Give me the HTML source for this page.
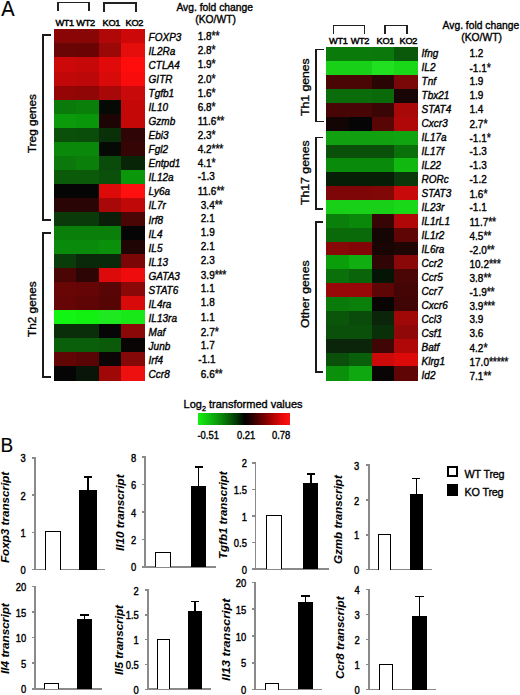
<!DOCTYPE html>
<html><head><meta charset="utf-8"><style>
html,body{margin:0;padding:0;background:#fff;}
body{width:520px;height:695px;position:relative;overflow:hidden;font-family:"Liberation Sans", sans-serif;color:#000;}
.t{position:absolute;white-space:nowrap;-webkit-text-stroke:0.35px #000;}
.v{transform:rotate(-90deg);transform-origin:0 0;}
.r{position:absolute;}
.s{font-size:10.6px;letter-spacing:-0.3px;-webkit-text-stroke:0.25px #000;}
.sub{font-size:0.65em;position:relative;top:0.42em;}
</style></head><body>
<div class="t" style="left:1.30px;top:-1.23px;font-size:20px;line-height:20px;transform:scale(1.0,1.06);transform-origin:0 16.93px;-webkit-text-stroke:0.15px #000;">A</div>
<div class="r" style="left:53.70px;top:29.40px;width:23.18px;height:14.64px;background:#8a0606;"></div>
<div class="r" style="left:76.28px;top:29.40px;width:23.18px;height:14.64px;background:#880606;"></div>
<div class="r" style="left:98.85px;top:29.40px;width:23.18px;height:14.64px;background:#b00808;"></div>
<div class="r" style="left:121.42px;top:29.40px;width:23.18px;height:14.64px;background:#cc0808;"></div>
<div class="t" style="left:148.60px;top:32.73px;font-size:10px;line-height:10px;transform:scale(1.0,1.12);transform-origin:0 8.46px;font-style:italic;">FOXP3</div>
<div class="t" style="left:197.70px;top:31.34px;font-size:10px;line-height:10px;transform:scale(1.0,1.12);transform-origin:0 8.46px;">1.8<span class="s">*</span><span class="s">*</span></div>
<div class="r" style="left:53.70px;top:43.44px;width:23.18px;height:14.64px;background:#6a0505;"></div>
<div class="r" style="left:76.28px;top:43.44px;width:23.18px;height:14.64px;background:#6a0404;"></div>
<div class="r" style="left:98.85px;top:43.44px;width:23.18px;height:14.64px;background:#9a0808;"></div>
<div class="r" style="left:121.42px;top:43.44px;width:23.18px;height:14.64px;background:#e60d0d;"></div>
<div class="t" style="left:148.60px;top:46.80px;font-size:10px;line-height:10px;transform:scale(1.0,1.12);transform-origin:0 8.46px;font-style:italic;">IL2Ra</div>
<div class="t" style="left:197.70px;top:45.40px;font-size:10px;line-height:10px;transform:scale(1.0,1.12);transform-origin:0 8.46px;">2.8<span class="s">*</span></div>
<div class="r" style="left:53.70px;top:57.48px;width:23.18px;height:14.64px;background:#cc0808;"></div>
<div class="r" style="left:76.28px;top:57.48px;width:23.18px;height:14.64px;background:#c60808;"></div>
<div class="r" style="left:98.85px;top:57.48px;width:23.18px;height:14.64px;background:#e00a0a;"></div>
<div class="r" style="left:121.42px;top:57.48px;width:23.18px;height:14.64px;background:#ff0c0c;"></div>
<div class="t" style="left:148.60px;top:60.86px;font-size:10px;line-height:10px;transform:scale(1.0,1.12);transform-origin:0 8.46px;font-style:italic;">CTLA4</div>
<div class="t" style="left:197.70px;top:59.45px;font-size:10px;line-height:10px;transform:scale(1.0,1.12);transform-origin:0 8.46px;">1.9<span class="s">*</span></div>
<div class="r" style="left:53.70px;top:71.52px;width:23.18px;height:14.64px;background:#c00808;"></div>
<div class="r" style="left:76.28px;top:71.52px;width:23.18px;height:14.64px;background:#bc0808;"></div>
<div class="r" style="left:98.85px;top:71.52px;width:23.18px;height:14.64px;background:#d80a0a;"></div>
<div class="r" style="left:121.42px;top:71.52px;width:23.18px;height:14.64px;background:#f80c0c;"></div>
<div class="t" style="left:148.60px;top:74.91px;font-size:10px;line-height:10px;transform:scale(1.0,1.12);transform-origin:0 8.46px;font-style:italic;">GITR</div>
<div class="t" style="left:197.70px;top:73.51px;font-size:10px;line-height:10px;transform:scale(1.0,1.12);transform-origin:0 8.46px;">2.0<span class="s">*</span></div>
<div class="r" style="left:53.70px;top:85.56px;width:23.18px;height:14.64px;background:#940606;"></div>
<div class="r" style="left:76.28px;top:85.56px;width:23.18px;height:14.64px;background:#900606;"></div>
<div class="r" style="left:98.85px;top:85.56px;width:23.18px;height:14.64px;background:#a80808;"></div>
<div class="r" style="left:121.42px;top:85.56px;width:23.18px;height:14.64px;background:#c80a0a;"></div>
<div class="t" style="left:148.60px;top:88.97px;font-size:10px;line-height:10px;transform:scale(1.0,1.12);transform-origin:0 8.46px;font-style:italic;">Tgfb1</div>
<div class="t" style="left:197.70px;top:87.57px;font-size:10px;line-height:10px;transform:scale(1.0,1.12);transform-origin:0 8.46px;">1.6<span class="s">*</span></div>
<div class="r" style="left:53.70px;top:99.60px;width:23.18px;height:14.64px;background:#0a7a0a;"></div>
<div class="r" style="left:76.28px;top:99.60px;width:23.18px;height:14.64px;background:#0a800a;"></div>
<div class="r" style="left:98.85px;top:99.60px;width:23.18px;height:14.64px;background:#050a05;"></div>
<div class="r" style="left:121.42px;top:99.60px;width:23.18px;height:14.64px;background:#c40808;"></div>
<div class="t" style="left:148.60px;top:103.03px;font-size:10px;line-height:10px;transform:scale(1.0,1.12);transform-origin:0 8.46px;font-style:italic;">IL10</div>
<div class="t" style="left:197.70px;top:101.63px;font-size:10px;line-height:10px;transform:scale(1.0,1.12);transform-origin:0 8.46px;">6.8<span class="s">*</span></div>
<div class="r" style="left:53.70px;top:113.64px;width:23.18px;height:14.64px;background:#0a9a0a;"></div>
<div class="r" style="left:76.28px;top:113.64px;width:23.18px;height:14.64px;background:#0a960a;"></div>
<div class="r" style="left:98.85px;top:113.64px;width:23.18px;height:14.64px;background:#1e0505;"></div>
<div class="r" style="left:121.42px;top:113.64px;width:23.18px;height:14.64px;background:#c40808;"></div>
<div class="t" style="left:148.60px;top:117.09px;font-size:10px;line-height:10px;transform:scale(1.0,1.12);transform-origin:0 8.46px;font-style:italic;">Gzmb</div>
<div class="t" style="left:197.70px;top:115.69px;font-size:10px;line-height:10px;transform:scale(1.0,1.12);transform-origin:0 8.46px;">11.6<span class="s">*</span><span class="s">*</span></div>
<div class="r" style="left:53.70px;top:127.68px;width:23.18px;height:14.64px;background:#0a500a;"></div>
<div class="r" style="left:76.28px;top:127.68px;width:23.18px;height:14.64px;background:#0a4d0a;"></div>
<div class="r" style="left:98.85px;top:127.68px;width:23.18px;height:14.64px;background:#0a300a;"></div>
<div class="r" style="left:121.42px;top:127.68px;width:23.18px;height:14.64px;background:#300505;"></div>
<div class="t" style="left:148.60px;top:131.16px;font-size:10px;line-height:10px;transform:scale(1.0,1.12);transform-origin:0 8.46px;font-style:italic;">Ebi3</div>
<div class="t" style="left:197.70px;top:129.75px;font-size:10px;line-height:10px;transform:scale(1.0,1.12);transform-origin:0 8.46px;">2.3<span class="s">*</span></div>
<div class="r" style="left:53.70px;top:141.72px;width:23.18px;height:14.64px;background:#0a880a;"></div>
<div class="r" style="left:76.28px;top:141.72px;width:23.18px;height:14.64px;background:#0a880a;"></div>
<div class="r" style="left:98.85px;top:141.72px;width:23.18px;height:14.64px;background:#050a05;"></div>
<div class="r" style="left:121.42px;top:141.72px;width:23.18px;height:14.64px;background:#350505;"></div>
<div class="t" style="left:148.60px;top:145.22px;font-size:10px;line-height:10px;transform:scale(1.0,1.12);transform-origin:0 8.46px;font-style:italic;">Fgl2</div>
<div class="t" style="left:197.70px;top:143.81px;font-size:10px;line-height:10px;transform:scale(1.0,1.12);transform-origin:0 8.46px;">4.2<span class="s">*</span><span class="s">*</span><span class="s">*</span></div>
<div class="r" style="left:53.70px;top:155.76px;width:23.18px;height:14.64px;background:#0a780a;"></div>
<div class="r" style="left:76.28px;top:155.76px;width:23.18px;height:14.64px;background:#0a800a;"></div>
<div class="r" style="left:98.85px;top:155.76px;width:23.18px;height:14.64px;background:#0a4a0a;"></div>
<div class="r" style="left:121.42px;top:155.76px;width:23.18px;height:14.64px;background:#082508;"></div>
<div class="t" style="left:148.60px;top:159.28px;font-size:10px;line-height:10px;transform:scale(1.0,1.12);transform-origin:0 8.46px;font-style:italic;">Entpd1</div>
<div class="t" style="left:197.70px;top:157.88px;font-size:10px;line-height:10px;transform:scale(1.0,1.12);transform-origin:0 8.46px;">4.1<span class="s">*</span></div>
<div class="r" style="left:53.70px;top:169.80px;width:23.18px;height:14.64px;background:#0a5a0a;"></div>
<div class="r" style="left:76.28px;top:169.80px;width:23.18px;height:14.64px;background:#0a5a0a;"></div>
<div class="r" style="left:98.85px;top:169.80px;width:23.18px;height:14.64px;background:#0a500a;"></div>
<div class="r" style="left:121.42px;top:169.80px;width:23.18px;height:14.64px;background:#0a980a;"></div>
<div class="t" style="left:148.60px;top:173.34px;font-size:10px;line-height:10px;transform:scale(1.0,1.12);transform-origin:0 8.46px;font-style:italic;">IL12a</div>
<div class="t" style="left:197.70px;top:171.94px;font-size:10px;line-height:10px;transform:scale(1.0,1.12);transform-origin:0 8.46px;">-1.3</div>
<div class="r" style="left:53.70px;top:183.84px;width:23.18px;height:14.64px;background:#050505;"></div>
<div class="r" style="left:76.28px;top:183.84px;width:23.18px;height:14.64px;background:#050505;"></div>
<div class="r" style="left:98.85px;top:183.84px;width:23.18px;height:14.64px;background:#dd0a0a;"></div>
<div class="r" style="left:121.42px;top:183.84px;width:23.18px;height:14.64px;background:#ff1010;"></div>
<div class="t" style="left:148.60px;top:187.40px;font-size:10px;line-height:10px;transform:scale(1.0,1.12);transform-origin:0 8.46px;font-style:italic;">Ly6a</div>
<div class="t" style="left:197.70px;top:186.00px;font-size:10px;line-height:10px;transform:scale(1.0,1.12);transform-origin:0 8.46px;">11.6<span class="s">*</span><span class="s">*</span></div>
<div class="r" style="left:53.70px;top:197.88px;width:23.18px;height:14.64px;background:#2a0505;"></div>
<div class="r" style="left:76.28px;top:197.88px;width:23.18px;height:14.64px;background:#2a0505;"></div>
<div class="r" style="left:98.85px;top:197.88px;width:23.18px;height:14.64px;background:#a80808;"></div>
<div class="r" style="left:121.42px;top:197.88px;width:23.18px;height:14.64px;background:#c00808;"></div>
<div class="t" style="left:148.60px;top:201.46px;font-size:10px;line-height:10px;transform:scale(1.0,1.12);transform-origin:0 8.46px;font-style:italic;">IL7r</div>
<div class="t" style="left:200.80px;top:200.06px;font-size:10px;line-height:10px;transform:scale(1.0,1.12);transform-origin:0 8.46px;">3.4<span class="s">*</span><span class="s">*</span></div>
<div class="r" style="left:53.70px;top:211.92px;width:23.18px;height:14.64px;background:#0a3a0a;"></div>
<div class="r" style="left:76.28px;top:211.92px;width:23.18px;height:14.64px;background:#0a3a0a;"></div>
<div class="r" style="left:98.85px;top:211.92px;width:23.18px;height:14.64px;background:#0a1e0a;"></div>
<div class="r" style="left:121.42px;top:211.92px;width:23.18px;height:14.64px;background:#4a0505;"></div>
<div class="t" style="left:148.60px;top:215.52px;font-size:10px;line-height:10px;transform:scale(1.0,1.12);transform-origin:0 8.46px;font-style:italic;">Irf8</div>
<div class="t" style="left:200.80px;top:214.12px;font-size:10px;line-height:10px;transform:scale(1.0,1.12);transform-origin:0 8.46px;">2.1</div>
<div class="r" style="left:53.70px;top:225.96px;width:23.18px;height:14.64px;background:#0a800a;"></div>
<div class="r" style="left:76.28px;top:225.96px;width:23.18px;height:14.64px;background:#0a800a;"></div>
<div class="r" style="left:98.85px;top:225.96px;width:23.18px;height:14.64px;background:#0a800a;"></div>
<div class="r" style="left:121.42px;top:225.96px;width:23.18px;height:14.64px;background:#050505;"></div>
<div class="t" style="left:148.60px;top:229.58px;font-size:10px;line-height:10px;transform:scale(1.0,1.12);transform-origin:0 8.46px;font-style:italic;">IL4</div>
<div class="t" style="left:200.80px;top:228.18px;font-size:10px;line-height:10px;transform:scale(1.0,1.12);transform-origin:0 8.46px;">1.9</div>
<div class="r" style="left:53.70px;top:240.00px;width:23.18px;height:14.64px;background:#0a8a0a;"></div>
<div class="r" style="left:76.28px;top:240.00px;width:23.18px;height:14.64px;background:#0a8a0a;"></div>
<div class="r" style="left:98.85px;top:240.00px;width:23.18px;height:14.64px;background:#0a900a;"></div>
<div class="r" style="left:121.42px;top:240.00px;width:23.18px;height:14.64px;background:#200505;"></div>
<div class="t" style="left:148.60px;top:243.64px;font-size:10px;line-height:10px;transform:scale(1.0,1.12);transform-origin:0 8.46px;font-style:italic;">IL5</div>
<div class="t" style="left:200.80px;top:242.24px;font-size:10px;line-height:10px;transform:scale(1.0,1.12);transform-origin:0 8.46px;">2.1</div>
<div class="r" style="left:53.70px;top:254.04px;width:23.18px;height:14.64px;background:#0a3c0a;"></div>
<div class="r" style="left:76.28px;top:254.04px;width:23.18px;height:14.64px;background:#0a280a;"></div>
<div class="r" style="left:98.85px;top:254.04px;width:23.18px;height:14.64px;background:#0a280a;"></div>
<div class="r" style="left:121.42px;top:254.04px;width:23.18px;height:14.64px;background:#7a0606;"></div>
<div class="t" style="left:148.60px;top:257.70px;font-size:10px;line-height:10px;transform:scale(1.0,1.12);transform-origin:0 8.46px;font-style:italic;">IL13</div>
<div class="t" style="left:200.80px;top:256.30px;font-size:10px;line-height:10px;transform:scale(1.0,1.12);transform-origin:0 8.46px;">2.3</div>
<div class="r" style="left:53.70px;top:268.08px;width:23.18px;height:14.64px;background:#4a0505;"></div>
<div class="r" style="left:76.28px;top:268.08px;width:23.18px;height:14.64px;background:#2e0505;"></div>
<div class="r" style="left:98.85px;top:268.08px;width:23.18px;height:14.64px;background:#dc0a0a;"></div>
<div class="r" style="left:121.42px;top:268.08px;width:23.18px;height:14.64px;background:#ee0c0c;"></div>
<div class="t" style="left:148.60px;top:271.76px;font-size:10px;line-height:10px;transform:scale(1.0,1.12);transform-origin:0 8.46px;font-style:italic;">GATA3</div>
<div class="t" style="left:200.80px;top:270.36px;font-size:10px;line-height:10px;transform:scale(1.0,1.12);transform-origin:0 8.46px;">3.9<span class="s">*</span><span class="s">*</span><span class="s">*</span></div>
<div class="r" style="left:53.70px;top:282.12px;width:23.18px;height:14.64px;background:#680505;"></div>
<div class="r" style="left:76.28px;top:282.12px;width:23.18px;height:14.64px;background:#660505;"></div>
<div class="r" style="left:98.85px;top:282.12px;width:23.18px;height:14.64px;background:#580505;"></div>
<div class="r" style="left:121.42px;top:282.12px;width:23.18px;height:14.64px;background:#8a0808;"></div>
<div class="t" style="left:148.60px;top:285.82px;font-size:10px;line-height:10px;transform:scale(1.0,1.12);transform-origin:0 8.46px;font-style:italic;">STAT6</div>
<div class="t" style="left:200.80px;top:284.42px;font-size:10px;line-height:10px;transform:scale(1.0,1.12);transform-origin:0 8.46px;">1.1</div>
<div class="r" style="left:53.70px;top:296.16px;width:23.18px;height:14.64px;background:#660505;"></div>
<div class="r" style="left:76.28px;top:296.16px;width:23.18px;height:14.64px;background:#600505;"></div>
<div class="r" style="left:98.85px;top:296.16px;width:23.18px;height:14.64px;background:#560505;"></div>
<div class="r" style="left:121.42px;top:296.16px;width:23.18px;height:14.64px;background:#d80a0a;"></div>
<div class="t" style="left:148.60px;top:299.88px;font-size:10px;line-height:10px;transform:scale(1.0,1.12);transform-origin:0 8.46px;font-style:italic;">IL4ra</div>
<div class="t" style="left:200.80px;top:298.48px;font-size:10px;line-height:10px;transform:scale(1.0,1.12);transform-origin:0 8.46px;">1.8</div>
<div class="r" style="left:53.70px;top:310.20px;width:23.18px;height:14.64px;background:#12f512;"></div>
<div class="r" style="left:76.28px;top:310.20px;width:23.18px;height:14.64px;background:#12f012;"></div>
<div class="r" style="left:98.85px;top:310.20px;width:23.18px;height:14.64px;background:#20e820;"></div>
<div class="r" style="left:121.42px;top:310.20px;width:23.18px;height:14.64px;background:#18e818;"></div>
<div class="t" style="left:148.60px;top:313.94px;font-size:10px;line-height:10px;transform:scale(1.0,1.12);transform-origin:0 8.46px;font-style:italic;">IL13ra</div>
<div class="t" style="left:200.80px;top:312.54px;font-size:10px;line-height:10px;transform:scale(1.0,1.12);transform-origin:0 8.46px;">1.1</div>
<div class="r" style="left:53.70px;top:324.24px;width:23.18px;height:14.64px;background:#0a2e0a;"></div>
<div class="r" style="left:76.28px;top:324.24px;width:23.18px;height:14.64px;background:#0a2e0a;"></div>
<div class="r" style="left:98.85px;top:324.24px;width:23.18px;height:14.64px;background:#060606;"></div>
<div class="r" style="left:121.42px;top:324.24px;width:23.18px;height:14.64px;background:#8a0808;"></div>
<div class="t" style="left:148.60px;top:328.00px;font-size:10px;line-height:10px;transform:scale(1.0,1.12);transform-origin:0 8.46px;font-style:italic;">Maf</div>
<div class="t" style="left:200.80px;top:326.60px;font-size:10px;line-height:10px;transform:scale(1.0,1.12);transform-origin:0 8.46px;">2.7<span class="s">*</span></div>
<div class="r" style="left:53.70px;top:338.28px;width:23.18px;height:14.64px;background:#0a600a;"></div>
<div class="r" style="left:76.28px;top:338.28px;width:23.18px;height:14.64px;background:#0a600a;"></div>
<div class="r" style="left:98.85px;top:338.28px;width:23.18px;height:14.64px;background:#0a5a0a;"></div>
<div class="r" style="left:121.42px;top:338.28px;width:23.18px;height:14.64px;background:#0a0505;"></div>
<div class="t" style="left:148.60px;top:342.06px;font-size:10px;line-height:10px;transform:scale(1.0,1.12);transform-origin:0 8.46px;font-style:italic;">Junb</div>
<div class="t" style="left:200.80px;top:340.66px;font-size:10px;line-height:10px;transform:scale(1.0,1.12);transform-origin:0 8.46px;">1.7</div>
<div class="r" style="left:53.70px;top:352.32px;width:23.18px;height:14.64px;background:#620505;"></div>
<div class="r" style="left:76.28px;top:352.32px;width:23.18px;height:14.64px;background:#5a0505;"></div>
<div class="r" style="left:98.85px;top:352.32px;width:23.18px;height:14.64px;background:#0c0505;"></div>
<div class="r" style="left:121.42px;top:352.32px;width:23.18px;height:14.64px;background:#840808;"></div>
<div class="t" style="left:148.60px;top:356.12px;font-size:10px;line-height:10px;transform:scale(1.0,1.12);transform-origin:0 8.46px;font-style:italic;">Irf4</div>
<div class="t" style="left:198.30px;top:354.72px;font-size:10px;line-height:10px;transform:scale(1.0,1.12);transform-origin:0 8.46px;">-1.1</div>
<div class="r" style="left:53.70px;top:366.36px;width:23.18px;height:14.64px;background:#050505;"></div>
<div class="r" style="left:76.28px;top:366.36px;width:23.18px;height:14.64px;background:#0a150a;"></div>
<div class="r" style="left:98.85px;top:366.36px;width:23.18px;height:14.64px;background:#a00808;"></div>
<div class="r" style="left:121.42px;top:366.36px;width:23.18px;height:14.64px;background:#ee0f0f;"></div>
<div class="t" style="left:148.60px;top:370.18px;font-size:10px;line-height:10px;transform:scale(1.0,1.12);transform-origin:0 8.46px;font-style:italic;">Ccr8</div>
<div class="t" style="left:200.80px;top:368.78px;font-size:10px;line-height:10px;transform:scale(1.0,1.12);transform-origin:0 8.46px;">6.6<span class="s">*</span><span class="s">*</span></div>
<div class="r" style="left:326.00px;top:47.40px;width:23.40px;height:14.47px;background:#0a7a0a;"></div>
<div class="r" style="left:348.80px;top:47.40px;width:23.40px;height:14.47px;background:#0a7a0a;"></div>
<div class="r" style="left:371.60px;top:47.40px;width:23.40px;height:14.47px;background:#0a780a;"></div>
<div class="r" style="left:394.40px;top:47.40px;width:23.40px;height:14.47px;background:#0a580a;"></div>
<div class="t" style="left:421.60px;top:48.73px;font-size:10px;line-height:10px;transform:scale(1.0,1.12);transform-origin:0 8.46px;font-style:italic;">Ifng</div>
<div class="t" style="left:469.50px;top:48.73px;font-size:10px;line-height:10px;transform:scale(1.0,1.12);transform-origin:0 8.46px;">1.2</div>
<div class="r" style="left:326.00px;top:61.27px;width:23.40px;height:14.47px;background:#18d018;"></div>
<div class="r" style="left:348.80px;top:61.27px;width:23.40px;height:14.47px;background:#18d018;"></div>
<div class="r" style="left:371.60px;top:61.27px;width:23.40px;height:14.47px;background:#20e020;"></div>
<div class="r" style="left:394.40px;top:61.27px;width:23.40px;height:14.47px;background:#18d818;"></div>
<div class="t" style="left:421.60px;top:62.73px;font-size:10px;line-height:10px;transform:scale(1.0,1.12);transform-origin:0 8.46px;font-style:italic;">IL2</div>
<div class="t" style="left:469.50px;top:62.73px;font-size:10px;line-height:10px;transform:scale(1.0,1.12);transform-origin:0 8.46px;">-1.1<span class="s">*</span></div>
<div class="r" style="left:326.00px;top:75.14px;width:23.40px;height:14.47px;background:#4a0505;"></div>
<div class="r" style="left:348.80px;top:75.14px;width:23.40px;height:14.47px;background:#4a0505;"></div>
<div class="r" style="left:371.60px;top:75.14px;width:23.40px;height:14.47px;background:#2a0505;"></div>
<div class="r" style="left:394.40px;top:75.14px;width:23.40px;height:14.47px;background:#7a0808;"></div>
<div class="t" style="left:421.60px;top:76.73px;font-size:10px;line-height:10px;transform:scale(1.0,1.12);transform-origin:0 8.46px;font-style:italic;">Tnf</div>
<div class="t" style="left:469.50px;top:76.73px;font-size:10px;line-height:10px;transform:scale(1.0,1.12);transform-origin:0 8.46px;">1.9</div>
<div class="r" style="left:326.00px;top:89.01px;width:23.40px;height:14.47px;background:#0a6c0a;"></div>
<div class="r" style="left:348.80px;top:89.01px;width:23.40px;height:14.47px;background:#0a6c0a;"></div>
<div class="r" style="left:371.60px;top:89.01px;width:23.40px;height:14.47px;background:#0a6a0a;"></div>
<div class="r" style="left:394.40px;top:89.01px;width:23.40px;height:14.47px;background:#180505;"></div>
<div class="t" style="left:421.60px;top:90.73px;font-size:10px;line-height:10px;transform:scale(1.0,1.12);transform-origin:0 8.46px;font-style:italic;">Tbx21</div>
<div class="t" style="left:469.50px;top:90.73px;font-size:10px;line-height:10px;transform:scale(1.0,1.12);transform-origin:0 8.46px;">1.9</div>
<div class="r" style="left:326.00px;top:102.88px;width:23.40px;height:14.47px;background:#480505;"></div>
<div class="r" style="left:348.80px;top:102.88px;width:23.40px;height:14.47px;background:#480505;"></div>
<div class="r" style="left:371.60px;top:102.88px;width:23.40px;height:14.47px;background:#3a0505;"></div>
<div class="r" style="left:394.40px;top:102.88px;width:23.40px;height:14.47px;background:#a80808;"></div>
<div class="t" style="left:421.60px;top:104.73px;font-size:10px;line-height:10px;transform:scale(1.0,1.12);transform-origin:0 8.46px;font-style:italic;">STAT4</div>
<div class="t" style="left:469.50px;top:104.73px;font-size:10px;line-height:10px;transform:scale(1.0,1.12);transform-origin:0 8.46px;">1.4</div>
<div class="r" style="left:326.00px;top:116.75px;width:23.40px;height:14.47px;background:#140505;"></div>
<div class="r" style="left:348.80px;top:116.75px;width:23.40px;height:14.47px;background:#060505;"></div>
<div class="r" style="left:371.60px;top:116.75px;width:23.40px;height:14.47px;background:#580505;"></div>
<div class="r" style="left:394.40px;top:116.75px;width:23.40px;height:14.47px;background:#b00808;"></div>
<div class="t" style="left:421.60px;top:118.73px;font-size:10px;line-height:10px;transform:scale(1.0,1.12);transform-origin:0 8.46px;font-style:italic;">Cxcr3</div>
<div class="t" style="left:469.50px;top:118.73px;font-size:10px;line-height:10px;transform:scale(1.0,1.12);transform-origin:0 8.46px;">2.7<span class="s">*</span></div>
<div class="r" style="left:326.00px;top:130.62px;width:23.40px;height:14.47px;background:#10a010;"></div>
<div class="r" style="left:348.80px;top:130.62px;width:23.40px;height:14.47px;background:#10a010;"></div>
<div class="r" style="left:371.60px;top:130.62px;width:23.40px;height:14.47px;background:#10a010;"></div>
<div class="r" style="left:394.40px;top:130.62px;width:23.40px;height:14.47px;background:#10a510;"></div>
<div class="t" style="left:421.60px;top:132.73px;font-size:10px;line-height:10px;transform:scale(1.0,1.12);transform-origin:0 8.46px;font-style:italic;">IL17a</div>
<div class="t" style="left:469.50px;top:132.73px;font-size:10px;line-height:10px;transform:scale(1.0,1.12);transform-origin:0 8.46px;">-1.1<span class="s">*</span></div>
<div class="r" style="left:326.00px;top:144.50px;width:23.40px;height:14.47px;background:#0a500a;"></div>
<div class="r" style="left:348.80px;top:144.50px;width:23.40px;height:14.47px;background:#0a500a;"></div>
<div class="r" style="left:371.60px;top:144.50px;width:23.40px;height:14.47px;background:#0a500a;"></div>
<div class="r" style="left:394.40px;top:144.50px;width:23.40px;height:14.47px;background:#0a700a;"></div>
<div class="t" style="left:421.60px;top:146.73px;font-size:10px;line-height:10px;transform:scale(1.0,1.12);transform-origin:0 8.46px;font-style:italic;">IL17f</div>
<div class="t" style="left:469.50px;top:146.73px;font-size:10px;line-height:10px;transform:scale(1.0,1.12);transform-origin:0 8.46px;">-1.3</div>
<div class="r" style="left:326.00px;top:158.37px;width:23.40px;height:14.47px;background:#0a8a0a;"></div>
<div class="r" style="left:348.80px;top:158.37px;width:23.40px;height:14.47px;background:#0a8a0a;"></div>
<div class="r" style="left:371.60px;top:158.37px;width:23.40px;height:14.47px;background:#0a8a0a;"></div>
<div class="r" style="left:394.40px;top:158.37px;width:23.40px;height:14.47px;background:#10b810;"></div>
<div class="t" style="left:421.60px;top:160.73px;font-size:10px;line-height:10px;transform:scale(1.0,1.12);transform-origin:0 8.46px;font-style:italic;">IL22</div>
<div class="t" style="left:469.50px;top:160.73px;font-size:10px;line-height:10px;transform:scale(1.0,1.12);transform-origin:0 8.46px;">-1.3</div>
<div class="r" style="left:326.00px;top:172.24px;width:23.40px;height:14.47px;background:#061e06;"></div>
<div class="r" style="left:348.80px;top:172.24px;width:23.40px;height:14.47px;background:#061e06;"></div>
<div class="r" style="left:371.60px;top:172.24px;width:23.40px;height:14.47px;background:#061e06;"></div>
<div class="r" style="left:394.40px;top:172.24px;width:23.40px;height:14.47px;background:#0a380a;"></div>
<div class="t" style="left:421.60px;top:174.73px;font-size:10px;line-height:10px;transform:scale(1.0,1.12);transform-origin:0 8.46px;font-style:italic;">RORc</div>
<div class="t" style="left:469.50px;top:174.73px;font-size:10px;line-height:10px;transform:scale(1.0,1.12);transform-origin:0 8.46px;">-1.2</div>
<div class="r" style="left:326.00px;top:186.11px;width:23.40px;height:14.47px;background:#7e0606;"></div>
<div class="r" style="left:348.80px;top:186.11px;width:23.40px;height:14.47px;background:#7e0606;"></div>
<div class="r" style="left:371.60px;top:186.11px;width:23.40px;height:14.47px;background:#820707;"></div>
<div class="r" style="left:394.40px;top:186.11px;width:23.40px;height:14.47px;background:#c80a0a;"></div>
<div class="t" style="left:421.60px;top:188.73px;font-size:10px;line-height:10px;transform:scale(1.0,1.12);transform-origin:0 8.46px;font-style:italic;">STAT3</div>
<div class="t" style="left:469.50px;top:188.73px;font-size:10px;line-height:10px;transform:scale(1.0,1.12);transform-origin:0 8.46px;">1.6<span class="s">*</span></div>
<div class="r" style="left:326.00px;top:199.98px;width:23.40px;height:14.47px;background:#18d018;"></div>
<div class="r" style="left:348.80px;top:199.98px;width:23.40px;height:14.47px;background:#18d018;"></div>
<div class="r" style="left:371.60px;top:199.98px;width:23.40px;height:14.47px;background:#18d018;"></div>
<div class="r" style="left:394.40px;top:199.98px;width:23.40px;height:14.47px;background:#18d818;"></div>
<div class="t" style="left:421.60px;top:202.73px;font-size:10px;line-height:10px;transform:scale(1.0,1.12);transform-origin:0 8.46px;font-style:italic;">IL23r</div>
<div class="t" style="left:469.50px;top:202.73px;font-size:10px;line-height:10px;transform:scale(1.0,1.12);transform-origin:0 8.46px;">-1.1</div>
<div class="r" style="left:326.00px;top:213.85px;width:23.40px;height:14.47px;background:#0a800a;"></div>
<div class="r" style="left:348.80px;top:213.85px;width:23.40px;height:14.47px;background:#0a880a;"></div>
<div class="r" style="left:371.60px;top:213.85px;width:23.40px;height:14.47px;background:#380505;"></div>
<div class="r" style="left:394.40px;top:213.85px;width:23.40px;height:14.47px;background:#b00808;"></div>
<div class="t" style="left:421.60px;top:216.73px;font-size:10px;line-height:10px;transform:scale(1.0,1.12);transform-origin:0 8.46px;font-style:italic;">IL1rL1</div>
<div class="t" style="left:469.50px;top:216.73px;font-size:10px;line-height:10px;transform:scale(1.0,1.12);transform-origin:0 8.46px;">11.7<span class="s">*</span><span class="s">*</span></div>
<div class="r" style="left:326.00px;top:227.72px;width:23.40px;height:14.47px;background:#0a6a0a;"></div>
<div class="r" style="left:348.80px;top:227.72px;width:23.40px;height:14.47px;background:#0a6a0a;"></div>
<div class="r" style="left:371.60px;top:227.72px;width:23.40px;height:14.47px;background:#150505;"></div>
<div class="r" style="left:394.40px;top:227.72px;width:23.40px;height:14.47px;background:#600505;"></div>
<div class="t" style="left:421.60px;top:230.73px;font-size:10px;line-height:10px;transform:scale(1.0,1.12);transform-origin:0 8.46px;font-style:italic;">IL1r2</div>
<div class="t" style="left:469.50px;top:230.73px;font-size:10px;line-height:10px;transform:scale(1.0,1.12);transform-origin:0 8.46px;">4.5<span class="s">*</span><span class="s">*</span></div>
<div class="r" style="left:326.00px;top:241.59px;width:23.40px;height:14.47px;background:#880808;"></div>
<div class="r" style="left:348.80px;top:241.59px;width:23.40px;height:14.47px;background:#820606;"></div>
<div class="r" style="left:371.60px;top:241.59px;width:23.40px;height:14.47px;background:#1a0505;"></div>
<div class="r" style="left:394.40px;top:241.59px;width:23.40px;height:14.47px;background:#200505;"></div>
<div class="t" style="left:421.60px;top:244.73px;font-size:10px;line-height:10px;transform:scale(1.0,1.12);transform-origin:0 8.46px;font-style:italic;">IL6ra</div>
<div class="t" style="left:469.50px;top:244.73px;font-size:10px;line-height:10px;transform:scale(1.0,1.12);transform-origin:0 8.46px;">-2.0<span class="s">*</span><span class="s">*</span></div>
<div class="r" style="left:326.00px;top:255.46px;width:23.40px;height:14.47px;background:#0a9e0a;"></div>
<div class="r" style="left:348.80px;top:255.46px;width:23.40px;height:14.47px;background:#10ae10;"></div>
<div class="r" style="left:371.60px;top:255.46px;width:23.40px;height:14.47px;background:#300505;"></div>
<div class="r" style="left:394.40px;top:255.46px;width:23.40px;height:14.47px;background:#8a0808;"></div>
<div class="t" style="left:421.60px;top:258.74px;font-size:10px;line-height:10px;transform:scale(1.0,1.12);transform-origin:0 8.46px;font-style:italic;">Ccr2</div>
<div class="t" style="left:469.50px;top:258.74px;font-size:10px;line-height:10px;transform:scale(1.0,1.12);transform-origin:0 8.46px;">10.2<span class="s">*</span><span class="s">*</span><span class="s">*</span></div>
<div class="r" style="left:326.00px;top:269.33px;width:23.40px;height:14.47px;background:#0a700a;"></div>
<div class="r" style="left:348.80px;top:269.33px;width:23.40px;height:14.47px;background:#0a650a;"></div>
<div class="r" style="left:371.60px;top:269.33px;width:23.40px;height:14.47px;background:#051505;"></div>
<div class="r" style="left:394.40px;top:269.33px;width:23.40px;height:14.47px;background:#4a0505;"></div>
<div class="t" style="left:421.60px;top:272.74px;font-size:10px;line-height:10px;transform:scale(1.0,1.12);transform-origin:0 8.46px;font-style:italic;">Ccr5</div>
<div class="t" style="left:469.50px;top:272.74px;font-size:10px;line-height:10px;transform:scale(1.0,1.12);transform-origin:0 8.46px;">3.8<span class="s">*</span><span class="s">*</span></div>
<div class="r" style="left:326.00px;top:283.20px;width:23.40px;height:14.47px;background:#980808;"></div>
<div class="r" style="left:348.80px;top:283.20px;width:23.40px;height:14.47px;background:#980808;"></div>
<div class="r" style="left:371.60px;top:283.20px;width:23.40px;height:14.47px;background:#5e0505;"></div>
<div class="r" style="left:394.40px;top:283.20px;width:23.40px;height:14.47px;background:#460505;"></div>
<div class="t" style="left:421.60px;top:286.74px;font-size:10px;line-height:10px;transform:scale(1.0,1.12);transform-origin:0 8.46px;font-style:italic;">Ccr7</div>
<div class="t" style="left:469.50px;top:286.74px;font-size:10px;line-height:10px;transform:scale(1.0,1.12);transform-origin:0 8.46px;">-1.9<span class="s">*</span><span class="s">*</span></div>
<div class="r" style="left:326.00px;top:297.08px;width:23.40px;height:14.47px;background:#0a7a0a;"></div>
<div class="r" style="left:348.80px;top:297.08px;width:23.40px;height:14.47px;background:#0a800a;"></div>
<div class="r" style="left:371.60px;top:297.08px;width:23.40px;height:14.47px;background:#0a0505;"></div>
<div class="r" style="left:394.40px;top:297.08px;width:23.40px;height:14.47px;background:#400505;"></div>
<div class="t" style="left:421.60px;top:300.74px;font-size:10px;line-height:10px;transform:scale(1.0,1.12);transform-origin:0 8.46px;font-style:italic;">Cxcr6</div>
<div class="t" style="left:469.50px;top:300.74px;font-size:10px;line-height:10px;transform:scale(1.0,1.12);transform-origin:0 8.46px;">3.9<span class="s">*</span><span class="s">*</span><span class="s">*</span></div>
<div class="r" style="left:326.00px;top:310.95px;width:23.40px;height:14.47px;background:#0a550a;"></div>
<div class="r" style="left:348.80px;top:310.95px;width:23.40px;height:14.47px;background:#0a4a0a;"></div>
<div class="r" style="left:371.60px;top:310.95px;width:23.40px;height:14.47px;background:#0a250a;"></div>
<div class="r" style="left:394.40px;top:310.95px;width:23.40px;height:14.47px;background:#a00808;"></div>
<div class="t" style="left:421.60px;top:314.74px;font-size:10px;line-height:10px;transform:scale(1.0,1.12);transform-origin:0 8.46px;font-style:italic;">Ccl3</div>
<div class="t" style="left:469.50px;top:314.74px;font-size:10px;line-height:10px;transform:scale(1.0,1.12);transform-origin:0 8.46px;">3.9</div>
<div class="r" style="left:326.00px;top:324.82px;width:23.40px;height:14.47px;background:#0a500a;"></div>
<div class="r" style="left:348.80px;top:324.82px;width:23.40px;height:14.47px;background:#0a500a;"></div>
<div class="r" style="left:371.60px;top:324.82px;width:23.40px;height:14.47px;background:#0a300a;"></div>
<div class="r" style="left:394.40px;top:324.82px;width:23.40px;height:14.47px;background:#900808;"></div>
<div class="t" style="left:421.60px;top:328.74px;font-size:10px;line-height:10px;transform:scale(1.0,1.12);transform-origin:0 8.46px;font-style:italic;">Csf1</div>
<div class="t" style="left:469.50px;top:328.74px;font-size:10px;line-height:10px;transform:scale(1.0,1.12);transform-origin:0 8.46px;">3.6</div>
<div class="r" style="left:326.00px;top:338.69px;width:23.40px;height:14.47px;background:#0a250a;"></div>
<div class="r" style="left:348.80px;top:338.69px;width:23.40px;height:14.47px;background:#0a250a;"></div>
<div class="r" style="left:371.60px;top:338.69px;width:23.40px;height:14.47px;background:#400505;"></div>
<div class="r" style="left:394.40px;top:338.69px;width:23.40px;height:14.47px;background:#b00808;"></div>
<div class="t" style="left:421.60px;top:342.74px;font-size:10px;line-height:10px;transform:scale(1.0,1.12);transform-origin:0 8.46px;font-style:italic;">Batf</div>
<div class="t" style="left:469.50px;top:342.74px;font-size:10px;line-height:10px;transform:scale(1.0,1.12);transform-origin:0 8.46px;">4.2<span class="s">*</span></div>
<div class="r" style="left:326.00px;top:352.56px;width:23.40px;height:14.47px;background:#0a500a;"></div>
<div class="r" style="left:348.80px;top:352.56px;width:23.40px;height:14.47px;background:#0a600a;"></div>
<div class="r" style="left:371.60px;top:352.56px;width:23.40px;height:14.47px;background:#cc0a0a;"></div>
<div class="r" style="left:394.40px;top:352.56px;width:23.40px;height:14.47px;background:#dd0a0a;"></div>
<div class="t" style="left:421.60px;top:356.74px;font-size:10px;line-height:10px;transform:scale(1.0,1.12);transform-origin:0 8.46px;font-style:italic;">Klrg1</div>
<div class="t" style="left:469.50px;top:356.74px;font-size:10px;line-height:10px;transform:scale(1.0,1.12);transform-origin:0 8.46px;">17.0<span class="s">*</span><span class="s">*</span><span class="s">*</span><span class="s">*</span><span class="s">*</span></div>
<div class="r" style="left:326.00px;top:366.43px;width:23.40px;height:14.47px;background:#0a900a;"></div>
<div class="r" style="left:348.80px;top:366.43px;width:23.40px;height:14.47px;background:#10a810;"></div>
<div class="r" style="left:371.60px;top:366.43px;width:23.40px;height:14.47px;background:#0a0505;"></div>
<div class="r" style="left:394.40px;top:366.43px;width:23.40px;height:14.47px;background:#600505;"></div>
<div class="t" style="left:421.60px;top:370.74px;font-size:10px;line-height:10px;transform:scale(1.0,1.12);transform-origin:0 8.46px;font-style:italic;">Id2</div>
<div class="t" style="left:469.50px;top:370.74px;font-size:10px;line-height:10px;transform:scale(1.0,1.12);transform-origin:0 8.46px;">7.1<span class="s">*</span><span class="s">*</span></div>
<div class="t" style="left:55.40px;top:18.61px;font-size:9.2px;line-height:9.2px;transform:scale(1.0,1.04);transform-origin:0 7.79px;letter-spacing:-0.3px;-webkit-text-stroke:0.45px #000;">WT1</div>
<div class="t" style="left:76.30px;top:18.61px;font-size:9.2px;line-height:9.2px;transform:scale(1.0,1.04);transform-origin:0 7.79px;letter-spacing:-0.3px;-webkit-text-stroke:0.45px #000;">WT2</div>
<div class="t" style="left:102.60px;top:18.61px;font-size:9.2px;line-height:9.2px;transform:scale(1.0,1.04);transform-origin:0 7.79px;letter-spacing:-0.3px;-webkit-text-stroke:0.45px #000;">KO1</div>
<div class="t" style="left:125.60px;top:18.61px;font-size:9.2px;line-height:9.2px;transform:scale(1.0,1.04);transform-origin:0 7.79px;letter-spacing:-0.3px;-webkit-text-stroke:0.45px #000;">KO2</div>
<div class="t" style="left:329.10px;top:36.91px;font-size:9.2px;line-height:9.2px;transform:scale(1.0,1.04);transform-origin:0 7.79px;letter-spacing:-0.3px;-webkit-text-stroke:0.45px #000;">WT1</div>
<div class="t" style="left:350.70px;top:36.91px;font-size:9.2px;line-height:9.2px;transform:scale(1.0,1.04);transform-origin:0 7.79px;letter-spacing:-0.3px;-webkit-text-stroke:0.45px #000;">WT2</div>
<div class="t" style="left:376.60px;top:36.91px;font-size:9.2px;line-height:9.2px;transform:scale(1.0,1.04);transform-origin:0 7.79px;letter-spacing:-0.3px;-webkit-text-stroke:0.45px #000;">KO1</div>
<div class="t" style="left:399.60px;top:36.91px;font-size:9.2px;line-height:9.2px;transform:scale(1.0,1.04);transform-origin:0 7.79px;letter-spacing:-0.3px;-webkit-text-stroke:0.45px #000;">KO2</div>
<div class="r" style="left:57.00px;top:1.80px;width:32.90px;height:1.60px;background:#222;"></div>
<div class="r" style="left:57.00px;top:1.80px;width:1.60px;height:9.60px;background:#222;"></div>
<div class="r" style="left:88.30px;top:1.80px;width:1.60px;height:9.60px;background:#222;"></div>
<div class="r" style="left:103.20px;top:2.10px;width:33.70px;height:1.60px;background:#222;"></div>
<div class="r" style="left:103.20px;top:2.10px;width:1.60px;height:9.70px;background:#222;"></div>
<div class="r" style="left:135.30px;top:2.10px;width:1.60px;height:9.70px;background:#222;"></div>
<div class="r" style="left:332.80px;top:24.50px;width:32.40px;height:1.60px;background:#222;"></div>
<div class="r" style="left:332.80px;top:24.50px;width:1.60px;height:9.30px;background:#222;"></div>
<div class="r" style="left:363.60px;top:24.50px;width:1.60px;height:9.30px;background:#222;"></div>
<div class="r" style="left:384.20px;top:24.50px;width:23.60px;height:1.60px;background:#222;"></div>
<div class="r" style="left:384.20px;top:24.50px;width:1.60px;height:9.30px;background:#222;"></div>
<div class="r" style="left:406.20px;top:24.50px;width:1.60px;height:9.30px;background:#222;"></div>
<div class="t" style="left:176.40px;top:2.98px;font-size:10.3px;line-height:10.3px;transform:scale(1.0,1.1);transform-origin:0 8.72px;">Avg. fold change</div>
<div class="t" style="left:195.30px;top:15.28px;font-size:10.3px;line-height:10.3px;transform:scale(1.0,1.1);transform-origin:0 8.72px;">(KO/WT)</div>
<div class="t" style="left:442.60px;top:20.68px;font-size:10.3px;line-height:10.3px;transform:scale(1.0,1.1);transform-origin:0 8.72px;">Avg. fold change</div>
<div class="t" style="left:461.30px;top:33.28px;font-size:10.3px;line-height:10.3px;transform:scale(1.0,1.1);transform-origin:0 8.72px;">(KO/WT)</div>
<div class="r" style="left:42.40px;top:34.00px;width:1.70px;height:187.00px;background:#1a1a1a;"></div>
<div class="r" style="left:42.40px;top:34.00px;width:8.40px;height:1.70px;background:#1a1a1a;"></div>
<div class="r" style="left:42.40px;top:219.30px;width:8.40px;height:1.70px;background:#1a1a1a;"></div>
<div class="r" style="left:42.20px;top:232.40px;width:1.70px;height:145.30px;background:#1a1a1a;"></div>
<div class="r" style="left:42.20px;top:232.40px;width:8.60px;height:1.70px;background:#1a1a1a;"></div>
<div class="r" style="left:42.20px;top:376.00px;width:8.60px;height:1.70px;background:#1a1a1a;"></div>
<div class="r" style="left:315.20px;top:48.50px;width:1.70px;height:73.80px;background:#1a1a1a;"></div>
<div class="r" style="left:315.20px;top:48.50px;width:8.40px;height:1.70px;background:#1a1a1a;"></div>
<div class="r" style="left:315.20px;top:120.60px;width:8.40px;height:1.70px;background:#1a1a1a;"></div>
<div class="r" style="left:315.40px;top:136.70px;width:1.70px;height:73.00px;background:#1a1a1a;"></div>
<div class="r" style="left:315.40px;top:136.70px;width:8.00px;height:1.70px;background:#1a1a1a;"></div>
<div class="r" style="left:315.40px;top:208.00px;width:8.00px;height:1.70px;background:#1a1a1a;"></div>
<div class="r" style="left:315.00px;top:221.20px;width:1.70px;height:151.50px;background:#1a1a1a;"></div>
<div class="r" style="left:315.00px;top:221.20px;width:8.20px;height:1.70px;background:#1a1a1a;"></div>
<div class="r" style="left:315.00px;top:371.00px;width:8.20px;height:1.70px;background:#1a1a1a;"></div>
<div class="t v" style="left:27.57px;top:152.50px;font-size:10.2px;line-height:10.2px;transform:rotate(-90deg) scaleX(1.1500);-webkit-text-stroke:0.32px #000;">Treg genes</div>
<div class="t v" style="left:27.57px;top:336.60px;font-size:10.2px;line-height:10.2px;transform:rotate(-90deg) scaleX(1.1576);-webkit-text-stroke:0.32px #000;">Th2 genes</div>
<div class="t v" style="left:300.57px;top:116.40px;font-size:10.2px;line-height:10.2px;transform:rotate(-90deg) scaleX(1.1971);-webkit-text-stroke:0.32px #000;">Th1 genes</div>
<div class="t v" style="left:300.57px;top:204.50px;font-size:10.2px;line-height:10.2px;transform:rotate(-90deg) scaleX(1.2028);-webkit-text-stroke:0.32px #000;">Th17 genes</div>
<div class="t v" style="left:300.97px;top:328.40px;font-size:10.2px;line-height:10.2px;transform:rotate(-90deg) scaleX(1.2060);-webkit-text-stroke:0.32px #000;">Other genes</div>
<div class="r" style="left:198.30px;top:413.10px;width:91.30px;height:12.30px;background:linear-gradient(to right,#12f012 0%,#10d010 8%,#0a8a0a 25%,#054005 40%,#000 51%,#300000 60%,#900000 76%,#e00808 90%,#ff1212 100%);"></div>
<div class="t" style="left:183.60px;top:399.39px;font-size:11.0px;line-height:11.0px;">Log<span class="sub">2</span> transformed values</div>
<div class="t" style="left:197.50px;top:430.74px;font-size:9.4px;line-height:9.4px;transform:scale(1.0,1.15);transform-origin:0 7.96px;">-0.51</div>
<div class="t" style="left:237.00px;top:430.74px;font-size:9.4px;line-height:9.4px;transform:scale(1.0,1.15);transform-origin:0 7.96px;">0.21</div>
<div class="t" style="left:272.00px;top:430.74px;font-size:9.4px;line-height:9.4px;transform:scale(1.0,1.15);transform-origin:0 7.96px;">0.78</div>
<div class="t" style="left:0.50px;top:436.02px;font-size:19px;line-height:19px;transform:scale(1.0,1.06);transform-origin:0 16.08px;-webkit-text-stroke:0.15px #000;">B</div>
<div class="r" style="left:34.05px;top:457.00px;width:1.70px;height:113.40px;background:#8a8a8a;"></div>
<div class="r" style="left:34.05px;top:568.75px;width:71.35px;height:1.70px;background:#8a8a8a;"></div>
<div class="r" style="left:31.70px;top:568.80px;width:3.20px;height:1.60px;background:#8a8a8a;"></div>
<div class="t" style="right:494.40px;top:566.18px;font-size:9.4px;line-height:9.4px;transform:scale(1.0,1.17);transform-origin:100% 7.96px;">0</div>
<div class="r" style="left:31.70px;top:531.53px;width:3.20px;height:1.60px;background:#8a8a8a;"></div>
<div class="t" style="right:494.40px;top:528.91px;font-size:9.4px;line-height:9.4px;transform:scale(1.0,1.17);transform-origin:100% 7.96px;">1</div>
<div class="r" style="left:31.70px;top:494.27px;width:3.20px;height:1.60px;background:#8a8a8a;"></div>
<div class="t" style="right:494.40px;top:491.65px;font-size:9.4px;line-height:9.4px;transform:scale(1.0,1.17);transform-origin:100% 7.96px;">2</div>
<div class="r" style="left:31.70px;top:457.00px;width:3.20px;height:1.60px;background:#8a8a8a;"></div>
<div class="t" style="right:494.40px;top:454.38px;font-size:9.4px;line-height:9.4px;transform:scale(1.0,1.17);transform-origin:100% 7.96px;">3</div>
<div class="r" style="left:44.70px;top:531.43px;width:16.00px;height:38.17px;border:1.8px solid #000;border-bottom:none;box-sizing:border-box;background:#fff"></div>
<div class="r" style="left:79.30px;top:490.22px;width:17.30px;height:79.38px;background:#000;"></div>
<div class="r" style="left:87.10px;top:476.06px;width:1.70px;height:15.16px;background:#000;"></div>
<div class="r" style="left:83.85px;top:475.76px;width:8.20px;height:1.80px;background:#000;"></div>
<div class="t v" style="left:1.13px;top:562.50px;font-size:10.0px;line-height:10.0px;transform:rotate(-90deg) scaleX(1.1640);font-weight:bold;font-style:italic;-webkit-text-stroke:0.05px #000;">Foxp3 transcript</div>
<div class="r" style="left:144.15px;top:456.40px;width:1.70px;height:111.20px;background:#8a8a8a;"></div>
<div class="r" style="left:144.15px;top:565.95px;width:72.15px;height:1.70px;background:#8a8a8a;"></div>
<div class="r" style="left:141.80px;top:566.00px;width:3.20px;height:1.60px;background:#8a8a8a;"></div>
<div class="t" style="right:383.90px;top:563.38px;font-size:9.4px;line-height:9.4px;transform:scale(1.0,1.17);transform-origin:100% 7.96px;">0</div>
<div class="r" style="left:141.80px;top:538.60px;width:3.20px;height:1.60px;background:#8a8a8a;"></div>
<div class="t" style="right:383.90px;top:535.98px;font-size:9.4px;line-height:9.4px;transform:scale(1.0,1.17);transform-origin:100% 7.96px;">2</div>
<div class="r" style="left:141.80px;top:511.20px;width:3.20px;height:1.60px;background:#8a8a8a;"></div>
<div class="t" style="right:383.90px;top:508.58px;font-size:9.4px;line-height:9.4px;transform:scale(1.0,1.17);transform-origin:100% 7.96px;">4</div>
<div class="r" style="left:141.80px;top:483.80px;width:3.20px;height:1.60px;background:#8a8a8a;"></div>
<div class="t" style="right:383.90px;top:481.18px;font-size:9.4px;line-height:9.4px;transform:scale(1.0,1.17);transform-origin:100% 7.96px;">6</div>
<div class="r" style="left:141.80px;top:456.40px;width:3.20px;height:1.60px;background:#8a8a8a;"></div>
<div class="t" style="right:383.90px;top:453.78px;font-size:9.4px;line-height:9.4px;transform:scale(1.0,1.17);transform-origin:100% 7.96px;">8</div>
<div class="r" style="left:155.30px;top:552.20px;width:15.50px;height:14.60px;border:1.8px solid #000;border-bottom:none;box-sizing:border-box;background:#fff"></div>
<div class="r" style="left:190.90px;top:486.38px;width:15.50px;height:80.42px;background:#000;"></div>
<div class="r" style="left:197.80px;top:466.79px;width:1.70px;height:20.59px;background:#000;"></div>
<div class="r" style="left:194.55px;top:466.49px;width:8.20px;height:1.80px;background:#000;"></div>
<div class="t v" style="left:116.14px;top:550.90px;font-size:10.0px;line-height:10.0px;transform:rotate(-90deg) scaleX(1.1680);font-weight:bold;font-style:italic;-webkit-text-stroke:0.05px #000;">Il10 transcript</div>
<div class="r" style="left:254.55px;top:462.10px;width:1.70px;height:107.90px;background:#8a8a8a;"></div>
<div class="r" style="left:254.55px;top:568.35px;width:74.75px;height:1.70px;background:#8a8a8a;"></div>
<div class="r" style="left:252.20px;top:568.40px;width:3.20px;height:1.60px;background:#8a8a8a;"></div>
<div class="t" style="right:273.10px;top:565.78px;font-size:9.4px;line-height:9.4px;transform:scale(1.0,1.17);transform-origin:100% 7.96px;">0</div>
<div class="r" style="left:252.20px;top:541.83px;width:3.20px;height:1.60px;background:#8a8a8a;"></div>
<div class="t" style="right:273.10px;top:539.21px;font-size:9.4px;line-height:9.4px;transform:scale(1.0,1.17);transform-origin:100% 7.96px;">0.5</div>
<div class="r" style="left:252.20px;top:515.25px;width:3.20px;height:1.60px;background:#8a8a8a;"></div>
<div class="t" style="right:273.10px;top:512.63px;font-size:9.4px;line-height:9.4px;transform:scale(1.0,1.17);transform-origin:100% 7.96px;">1</div>
<div class="r" style="left:252.20px;top:488.68px;width:3.20px;height:1.60px;background:#8a8a8a;"></div>
<div class="t" style="right:273.10px;top:486.06px;font-size:9.4px;line-height:9.4px;transform:scale(1.0,1.17);transform-origin:100% 7.96px;">1.5</div>
<div class="r" style="left:252.20px;top:462.10px;width:3.20px;height:1.60px;background:#8a8a8a;"></div>
<div class="t" style="right:273.10px;top:459.48px;font-size:9.4px;line-height:9.4px;transform:scale(1.0,1.17);transform-origin:100% 7.96px;">2</div>
<div class="r" style="left:266.30px;top:515.15px;width:15.40px;height:54.05px;border:1.8px solid #000;border-bottom:none;box-sizing:border-box;background:#fff"></div>
<div class="r" style="left:303.20px;top:482.57px;width:15.10px;height:86.63px;background:#000;"></div>
<div class="r" style="left:309.90px;top:473.53px;width:1.70px;height:10.04px;background:#000;"></div>
<div class="r" style="left:306.65px;top:473.23px;width:8.20px;height:1.80px;background:#000;"></div>
<div class="t v" style="left:219.43px;top:559.00px;font-size:10.0px;line-height:10.0px;transform:rotate(-90deg) scaleX(1.1521);font-weight:bold;font-style:italic;-webkit-text-stroke:0.05px #000;">Tgfb1 transcript</div>
<div class="r" style="left:367.85px;top:464.30px;width:1.70px;height:106.10px;background:#8a8a8a;"></div>
<div class="r" style="left:367.85px;top:568.75px;width:64.65px;height:1.70px;background:#8a8a8a;"></div>
<div class="r" style="left:365.50px;top:568.80px;width:3.20px;height:1.60px;background:#8a8a8a;"></div>
<div class="t" style="right:160.80px;top:566.18px;font-size:9.4px;line-height:9.4px;transform:scale(1.0,1.17);transform-origin:100% 7.96px;">0</div>
<div class="r" style="left:365.50px;top:533.97px;width:3.20px;height:1.60px;background:#8a8a8a;"></div>
<div class="t" style="right:160.80px;top:531.35px;font-size:9.4px;line-height:9.4px;transform:scale(1.0,1.17);transform-origin:100% 7.96px;">1</div>
<div class="r" style="left:365.50px;top:499.13px;width:3.20px;height:1.60px;background:#8a8a8a;"></div>
<div class="t" style="right:160.80px;top:496.51px;font-size:9.4px;line-height:9.4px;transform:scale(1.0,1.17);transform-origin:100% 7.96px;">2</div>
<div class="r" style="left:365.50px;top:464.30px;width:3.20px;height:1.60px;background:#8a8a8a;"></div>
<div class="t" style="right:160.80px;top:461.68px;font-size:9.4px;line-height:9.4px;transform:scale(1.0,1.17);transform-origin:100% 7.96px;">3</div>
<div class="r" style="left:377.50px;top:533.87px;width:13.80px;height:35.73px;border:1.8px solid #000;border-bottom:none;box-sizing:border-box;background:#fff"></div>
<div class="r" style="left:409.50px;top:493.66px;width:13.80px;height:75.94px;background:#000;"></div>
<div class="r" style="left:415.55px;top:477.99px;width:1.70px;height:16.68px;background:#000;"></div>
<div class="r" style="left:412.30px;top:477.69px;width:8.20px;height:1.80px;background:#000;"></div>
<div class="t v" style="left:334.44px;top:563.80px;font-size:10.0px;line-height:10.0px;transform:rotate(-90deg) scaleX(1.1581);font-weight:bold;font-style:italic;-webkit-text-stroke:0.05px #000;">Gzmb transcript</div>
<div class="r" style="left:34.25px;top:585.60px;width:1.70px;height:104.10px;background:#8a8a8a;"></div>
<div class="r" style="left:34.25px;top:688.05px;width:67.55px;height:1.70px;background:#8a8a8a;"></div>
<div class="r" style="left:31.90px;top:688.10px;width:3.20px;height:1.60px;background:#8a8a8a;"></div>
<div class="t" style="right:493.80px;top:685.48px;font-size:9.4px;line-height:9.4px;transform:scale(1.0,1.17);transform-origin:100% 7.96px;">0</div>
<div class="r" style="left:31.90px;top:662.48px;width:3.20px;height:1.60px;background:#8a8a8a;"></div>
<div class="t" style="right:493.80px;top:659.86px;font-size:9.4px;line-height:9.4px;transform:scale(1.0,1.17);transform-origin:100% 7.96px;">5</div>
<div class="r" style="left:31.90px;top:636.85px;width:3.20px;height:1.60px;background:#8a8a8a;"></div>
<div class="t" style="right:493.80px;top:634.23px;font-size:9.4px;line-height:9.4px;transform:scale(1.0,1.17);transform-origin:100% 7.96px;">10</div>
<div class="r" style="left:31.90px;top:611.23px;width:3.20px;height:1.60px;background:#8a8a8a;"></div>
<div class="t" style="right:493.80px;top:608.61px;font-size:9.4px;line-height:9.4px;transform:scale(1.0,1.17);transform-origin:100% 7.96px;">15</div>
<div class="r" style="left:31.90px;top:585.60px;width:3.20px;height:1.60px;background:#8a8a8a;"></div>
<div class="t" style="right:493.80px;top:582.98px;font-size:9.4px;line-height:9.4px;transform:scale(1.0,1.17);transform-origin:100% 7.96px;">20</div>
<div class="r" style="left:44.40px;top:682.88px;width:14.20px;height:6.03px;border:1.8px solid #000;border-bottom:none;box-sizing:border-box;background:#fff"></div>
<div class="r" style="left:77.20px;top:618.89px;width:14.70px;height:70.01px;background:#000;"></div>
<div class="r" style="left:83.70px;top:614.59px;width:1.70px;height:5.30px;background:#000;"></div>
<div class="r" style="left:80.45px;top:614.29px;width:8.20px;height:1.80px;background:#000;"></div>
<div class="t v" style="left:1.43px;top:673.80px;font-size:10.0px;line-height:10.0px;transform:rotate(-90deg) scaleX(1.1796);font-weight:bold;font-style:italic;-webkit-text-stroke:0.05px #000;">Il4 transcript</div>
<div class="r" style="left:146.95px;top:589.20px;width:1.70px;height:100.90px;background:#8a8a8a;"></div>
<div class="r" style="left:146.95px;top:688.45px;width:64.25px;height:1.70px;background:#8a8a8a;"></div>
<div class="r" style="left:144.60px;top:688.50px;width:3.20px;height:1.60px;background:#8a8a8a;"></div>
<div class="t" style="right:381.20px;top:685.88px;font-size:9.4px;line-height:9.4px;transform:scale(1.0,1.17);transform-origin:100% 7.96px;">0</div>
<div class="r" style="left:144.60px;top:663.67px;width:3.20px;height:1.60px;background:#8a8a8a;"></div>
<div class="t" style="right:381.20px;top:661.06px;font-size:9.4px;line-height:9.4px;transform:scale(1.0,1.17);transform-origin:100% 7.96px;">0.5</div>
<div class="r" style="left:144.60px;top:638.85px;width:3.20px;height:1.60px;background:#8a8a8a;"></div>
<div class="t" style="right:381.20px;top:636.23px;font-size:9.4px;line-height:9.4px;transform:scale(1.0,1.17);transform-origin:100% 7.96px;">1</div>
<div class="r" style="left:144.60px;top:614.03px;width:3.20px;height:1.60px;background:#8a8a8a;"></div>
<div class="t" style="right:381.20px;top:611.41px;font-size:9.4px;line-height:9.4px;transform:scale(1.0,1.17);transform-origin:100% 7.96px;">1.5</div>
<div class="r" style="left:144.60px;top:589.20px;width:3.20px;height:1.60px;background:#8a8a8a;"></div>
<div class="t" style="right:381.20px;top:586.58px;font-size:9.4px;line-height:9.4px;transform:scale(1.0,1.17);transform-origin:100% 7.96px;">2</div>
<div class="r" style="left:157.00px;top:638.75px;width:13.00px;height:50.55px;border:1.8px solid #000;border-bottom:none;box-sizing:border-box;background:#fff"></div>
<div class="r" style="left:188.00px;top:610.85px;width:14.00px;height:78.45px;background:#000;"></div>
<div class="r" style="left:194.15px;top:600.92px;width:1.70px;height:10.93px;background:#000;"></div>
<div class="r" style="left:190.90px;top:600.62px;width:8.20px;height:1.80px;background:#000;"></div>
<div class="t v" style="left:114.73px;top:675.00px;font-size:10.0px;line-height:10.0px;transform:rotate(-90deg) scaleX(1.1663);font-weight:bold;font-style:italic;-webkit-text-stroke:0.05px #000;">Il5 transcript</div>
<div class="r" style="left:254.15px;top:581.70px;width:1.70px;height:108.60px;background:#8a8a8a;"></div>
<div class="r" style="left:254.15px;top:688.65px;width:68.05px;height:1.70px;background:#8a8a8a;"></div>
<div class="r" style="left:251.80px;top:688.70px;width:3.20px;height:1.60px;background:#8a8a8a;"></div>
<div class="t" style="right:273.80px;top:686.08px;font-size:9.4px;line-height:9.4px;transform:scale(1.0,1.17);transform-origin:100% 7.96px;">0</div>
<div class="r" style="left:251.80px;top:661.95px;width:3.20px;height:1.60px;background:#8a8a8a;"></div>
<div class="t" style="right:273.80px;top:659.33px;font-size:9.4px;line-height:9.4px;transform:scale(1.0,1.17);transform-origin:100% 7.96px;">5</div>
<div class="r" style="left:251.80px;top:635.20px;width:3.20px;height:1.60px;background:#8a8a8a;"></div>
<div class="t" style="right:273.80px;top:632.58px;font-size:9.4px;line-height:9.4px;transform:scale(1.0,1.17);transform-origin:100% 7.96px;">10</div>
<div class="r" style="left:251.80px;top:608.45px;width:3.20px;height:1.60px;background:#8a8a8a;"></div>
<div class="t" style="right:273.80px;top:605.83px;font-size:9.4px;line-height:9.4px;transform:scale(1.0,1.17);transform-origin:100% 7.96px;">15</div>
<div class="r" style="left:251.80px;top:581.70px;width:3.20px;height:1.60px;background:#8a8a8a;"></div>
<div class="t" style="right:273.80px;top:579.08px;font-size:9.4px;line-height:9.4px;transform:scale(1.0,1.17);transform-origin:100% 7.96px;">20</div>
<div class="r" style="left:265.00px;top:683.25px;width:14.20px;height:6.25px;border:1.8px solid #000;border-bottom:none;box-sizing:border-box;background:#fff"></div>
<div class="r" style="left:298.20px;top:602.29px;width:14.60px;height:87.21px;background:#000;"></div>
<div class="r" style="left:304.65px;top:595.34px;width:1.70px;height:7.95px;background:#000;"></div>
<div class="r" style="left:301.40px;top:595.04px;width:8.20px;height:1.80px;background:#000;"></div>
<div class="t v" style="left:221.73px;top:681.20px;font-size:10.0px;line-height:10.0px;transform:rotate(-90deg) scaleX(1.2565);font-weight:bold;font-style:italic;-webkit-text-stroke:0.05px #000;">Il13 transcript</div>
<div class="r" style="left:367.95px;top:588.80px;width:1.70px;height:101.60px;background:#8a8a8a;"></div>
<div class="r" style="left:367.95px;top:688.75px;width:68.35px;height:1.70px;background:#8a8a8a;"></div>
<div class="r" style="left:365.60px;top:688.80px;width:3.20px;height:1.60px;background:#8a8a8a;"></div>
<div class="t" style="right:160.40px;top:686.18px;font-size:9.4px;line-height:9.4px;transform:scale(1.0,1.17);transform-origin:100% 7.96px;">0</div>
<div class="r" style="left:365.60px;top:663.80px;width:3.20px;height:1.60px;background:#8a8a8a;"></div>
<div class="t" style="right:160.40px;top:661.18px;font-size:9.4px;line-height:9.4px;transform:scale(1.0,1.17);transform-origin:100% 7.96px;">1</div>
<div class="r" style="left:365.60px;top:638.80px;width:3.20px;height:1.60px;background:#8a8a8a;"></div>
<div class="t" style="right:160.40px;top:636.18px;font-size:9.4px;line-height:9.4px;transform:scale(1.0,1.17);transform-origin:100% 7.96px;">2</div>
<div class="r" style="left:365.60px;top:613.80px;width:3.20px;height:1.60px;background:#8a8a8a;"></div>
<div class="t" style="right:160.40px;top:611.18px;font-size:9.4px;line-height:9.4px;transform:scale(1.0,1.17);transform-origin:100% 7.96px;">3</div>
<div class="r" style="left:365.60px;top:588.80px;width:3.20px;height:1.60px;background:#8a8a8a;"></div>
<div class="t" style="right:160.40px;top:586.18px;font-size:9.4px;line-height:9.4px;transform:scale(1.0,1.17);transform-origin:100% 7.96px;">4</div>
<div class="r" style="left:379.30px;top:663.70px;width:14.20px;height:25.90px;border:1.8px solid #000;border-bottom:none;box-sizing:border-box;background:#fff"></div>
<div class="r" style="left:412.10px;top:616.35px;width:14.70px;height:73.25px;background:#000;"></div>
<div class="r" style="left:418.60px;top:595.85px;width:1.70px;height:21.50px;background:#000;"></div>
<div class="r" style="left:415.35px;top:595.55px;width:8.20px;height:1.80px;background:#000;"></div>
<div class="t v" style="left:335.74px;top:678.80px;font-size:10.0px;line-height:10.0px;transform:rotate(-90deg) scaleX(1.1597);font-weight:bold;font-style:italic;-webkit-text-stroke:0.05px #000;">Ccr8 transcript</div>
<div class="r" style="left:447px;top:466.2px;width:10.7px;height:11.3px;border:2px solid #000;box-sizing:border-box;background:#fff"></div>
<div class="r" style="left:447.00px;top:484.10px;width:10.70px;height:12.10px;background:#000;"></div>
<div class="t" style="left:464.60px;top:468.86px;font-size:10.8px;line-height:10.8px;transform:scale(1.0,1.08);transform-origin:0 9.14px;letter-spacing:-0.2px;">WT Treg</div>
<div class="t" style="left:464.60px;top:487.06px;font-size:10.8px;line-height:10.8px;transform:scale(1.0,1.08);transform-origin:0 9.14px;letter-spacing:-0.2px;">KO Treg</div>
</body></html>
